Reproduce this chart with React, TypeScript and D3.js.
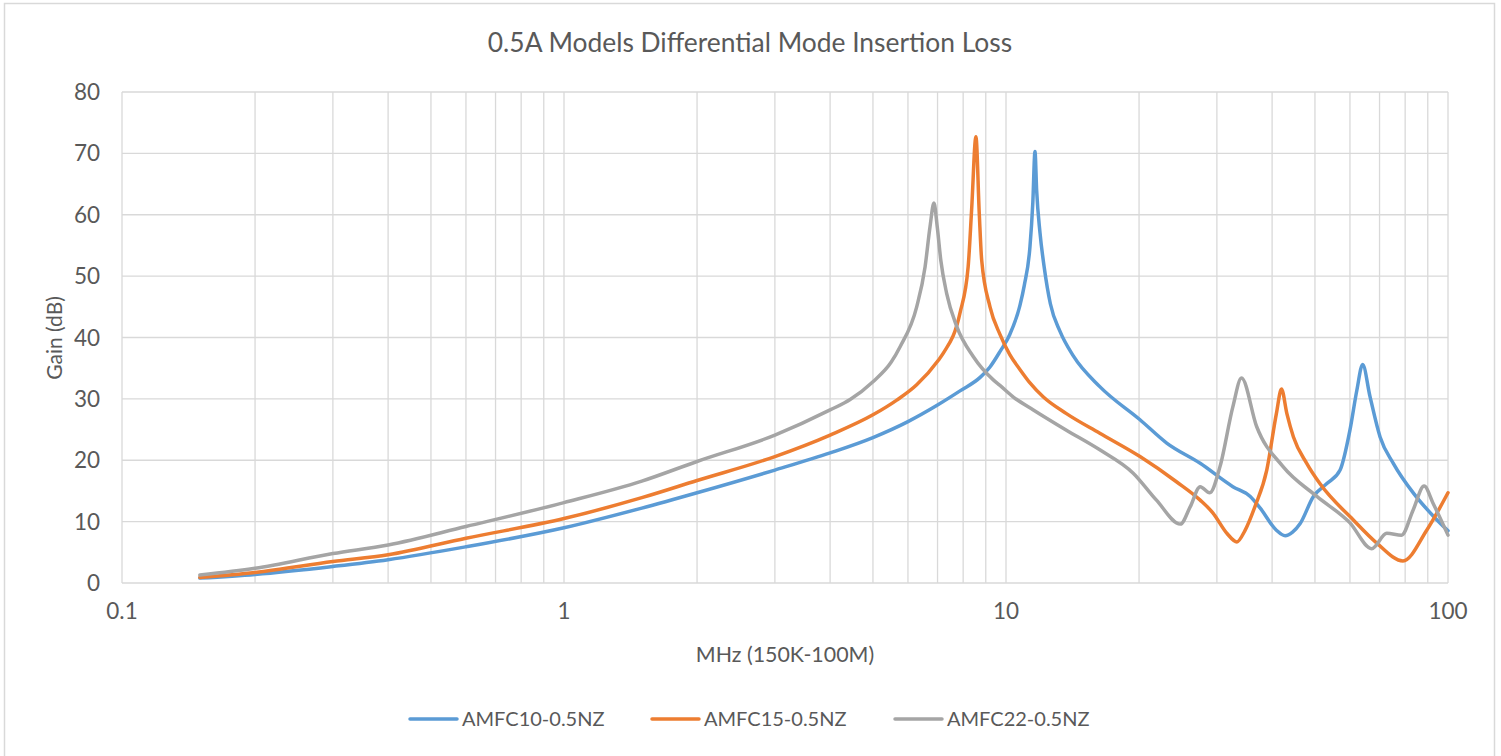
import React from "react";
import * as d3 from "d3";

const title = "0.5A Models Differential Mode Insertion Loss";
const xAxisTitle = "MHz (150K-100M)";
const yAxisTitle = "Gain (dB)";
const yTicks = [0, 10, 20, 30, 40, 50, 60, 70, 80];
const xTickLabels = [0.1, 1, 10, 100];
const seriesNames = ["AMFC10-0.5NZ", "AMFC15-0.5NZ", "AMFC22-0.5NZ"];
const seriesColors = ["#5B9BD5", "#ED7D31", "#A5A5A5"];

const freq10 = [0.15, 0.2, 0.3, 0.4, 0.6, 1.0, 1.5, 2.0, 3.0, 4.0, 5.0, 6.0, 7.0, 7.87, 8.74, 9.2, 9.69, 10.2, 10.75, 11.0, 11.33, 11.5, 11.63, 11.73, 11.94, 12.2, 12.6, 13.25, 14.2, 16.3, 20.1, 23.1, 27.5, 32.6, 35.7, 37.6, 40.9, 42.8, 44.5, 46.3, 49.6, 53.2, 57.0, 60.0, 62.2, 64.1, 66.6, 70.2, 75.2, 83.6, 92.9, 100];
const gain10 = [0.8, 1.4, 2.7, 3.8, 5.9, 9.0, 12.2, 14.7, 18.4, 21.2, 23.7, 26.3, 29.0, 31.3, 33.5, 35.2, 37.7, 40.5, 45.2, 48.5, 54.8, 62, 70.3, 64, 57, 51.5, 45.5, 41, 37, 32.0, 26.6, 22.8, 19.5, 15.7, 14.1, 12.2, 8.6, 7.7, 8.3, 9.7, 14.1, 16.2, 18.4, 24.9, 31.4, 35.6, 30.4, 23.8, 19.5, 14.6, 10.8, 8.5];

const freq15 = [0.15, 0.2, 0.3, 0.4, 0.6, 1.0, 1.5, 2.0, 3.0, 4.0, 5.0, 5.66, 6.28, 7.03, 7.22, 7.87, 8.21, 8.36, 8.55, 8.7, 8.81, 9.2, 9.69, 10.2, 10.75, 11.33, 12.15, 13.7, 16.3, 20.1, 24.3, 27.5, 29.4, 31.6, 33.3, 34.7, 36.6, 38.9, 40.9, 42.0, 43.2, 44.7, 47.9, 51.3, 61, 69, 79.1, 89.5, 100];
const gain15 = [0.9, 1.7, 3.5, 4.6, 7.3, 10.5, 13.9, 16.7, 20.6, 24.1, 27.4, 29.8, 32.3, 36.3, 37.5, 44, 51.5, 60.8, 72.7, 60.2, 52.6, 45, 40.5, 37.2, 34.8, 32.6, 30.3, 27.6, 24.4, 20.6, 16.5, 13.5, 11.4, 8.1, 6.7, 8.5, 12.5, 18.4, 27.6, 31.6, 27.6, 23.8, 19.5, 16.2, 10.3, 6.5, 3.6, 8.6, 14.7];

const freq22 = [0.15, 0.2, 0.3, 0.4, 0.6, 1.0, 1.5, 2.0, 3.0, 4.0, 4.44, 5.0, 5.5, 5.76, 6.28, 6.56, 6.73, 6.87, 6.99, 7.12, 7.34, 7.735, 8.43, 9.36, 9.69, 10.39, 11.53, 13.7, 16.3, 19.4, 21.9, 24.8, 26.1, 27.5, 28.9, 30.5, 32.6, 34.1, 36.9, 42.3, 50.5, 60, 67.2, 72.7, 78.5, 83.4, 88.3, 92.5, 100];
const gain22 = [1.3, 2.4, 4.8, 6.2, 9.2, 13.1, 16.6, 19.8, 24.1, 28.2, 29.9, 32.8, 36.0, 38.5, 45, 51.5, 58, 61.9, 58, 52.6, 47.2, 41.8, 36.9, 33.1, 32.2, 30.3, 28.2, 24.9, 21.7, 17.9, 13.5, 9.6, 12.4, 15.7, 14.7, 19, 28.7, 33.4, 25.5, 19, 14.1, 9.8, 5.6, 8.1, 7.8, 11.9, 15.8, 13, 7.8];

const seriesFreqs = [freq10, freq15, freq22];
const seriesGains = [gain10, gain15, gain22];

const W = 1501;
const H = 756;
const FONT = "Lato, 'Open Sans', sans-serif";
const TEXT = "#595959";
const GRID = "#D9D9D9";

export default function App() {
  const x = d3.scaleLog().domain([0.1, 100]).range([122, 1448]);
  const y = d3.scaleLinear().domain([0, 80]).range([583, 92]);

  const minorTicks: number[] = [];
  for (let dec = 0.1; dec < 100; dec *= 10) {
    for (let m = 1; m <= 9; m++) minorTicks.push(+(dec * m).toPrecision(3));
  }
  minorTicks.push(100);

  const line = d3
    .line<[number, number]>()
    .x((d) => x(d[0]))
    .y((d) => y(d[1]))
    .curve(d3.curveMonotoneX);

  const legendX = [410, 652, 895];

  return (
    <svg
      width={W}
      height={H}
      style={{ position: "absolute", left: 0, top: 0, background: "#fff" }}
      fontFamily={FONT}
    >
      <rect x={4.5} y={3.5} width={1490} height={770} fill="#fff" stroke={GRID} strokeWidth={1.5} />
      <text x={750} y={52} textAnchor="middle" fontSize={26.4} fill={TEXT}>
        {title}
      </text>
      {yTicks.map((t) => (
        <line key={"h" + t} x1={122} x2={1448} y1={y(t)} y2={y(t)} stroke={GRID} strokeWidth={1.3} />
      ))}
      {minorTicks.map((t, i) => (
        <line key={"v" + i} x1={x(t)} x2={x(t)} y1={92} y2={583} stroke={GRID} strokeWidth={1.3} />
      ))}
      {yTicks.map((t) => (
        <text key={"yl" + t} x={100} y={y(t)} dy="0.36em" textAnchor="end" fontSize={22.5} fill={TEXT}>
          {t}
        </text>
      ))}
      {xTickLabels.map((t) => (
        <text key={"xl" + t} x={x(t)} y={619} textAnchor="middle" fontSize={22.5} fill={TEXT}>
          {t}
        </text>
      ))}
      <text x={785} y={662} textAnchor="middle" fontSize={21.4} fill={TEXT}>
        {xAxisTitle}
      </text>
      <text transform={`translate(62,338) rotate(-90)`} textAnchor="middle" fontSize={21} fill={TEXT}>
        {yAxisTitle}
      </text>
      {seriesNames.map((name, i) => {
        const pts: [number, number][] = seriesFreqs[i].map((f, j) => [f, seriesGains[i][j]]);
        return (
          <path
            key={name}
            d={line(pts) || ""}
            fill="none"
            stroke={seriesColors[i]}
            strokeWidth={3.5}
            strokeLinejoin="round"
            strokeLinecap="round"
          />
        );
      })}
      {seriesNames.map((name, i) => (
        <g key={"lg" + name}>
          <line x1={legendX[i]} x2={legendX[i] + 47} y1={719} y2={719} stroke={seriesColors[i]} strokeWidth={3.5} strokeLinecap="round" />
          <text x={legendX[i] + 52} y={719} dy="0.36em" fontSize={20} fill={TEXT}>
            {name}
          </text>
        </g>
      ))}
    </svg>
  );
}
